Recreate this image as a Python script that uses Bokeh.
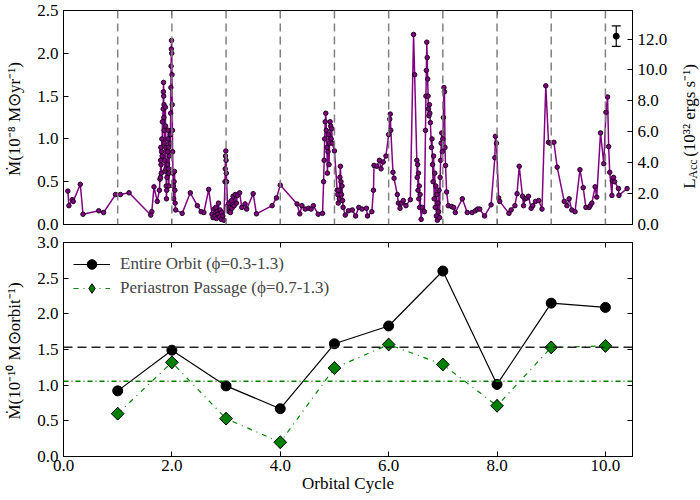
import numpy as np
from bokeh.plotting import figure
from bokeh.models import (Range1d, LinearAxis, FixedTicker, NumeralTickFormatter, Span,
                          Legend, LegendItem, Whisker, TeeHead, ColumnDataSource,
                          CustomJSTickFormatter)
from bokeh.core.properties import value
from bokeh.layouts import column, row
from bokeh.embed import file_html
from bokeh.resources import INLINE

FONT = "Liberation Serif"

# ---------------- top panel: accretion rate time series ----------------
cycle = [0.08, 0.10, 0.16, 0.18, 0.31, 0.36, 0.65, 0.74, 0.96, 1.05, 1.21, 1.61, 1.63, 1.67, 1.73, 1.77,
         1.78, 1.790, 1.793, 1.796, 1.800, 1.805, 1.810, 1.815, 1.820, 1.825,
         1.840, 1.843, 1.846, 1.849, 1.852, 1.855, 1.858, 1.861, 1.864, 1.867,
         1.880, 1.884, 1.888, 1.892, 1.896, 1.900, 1.905, 1.910,
         1.920, 1.924, 1.928, 1.932, 1.936, 1.940, 1.944, 1.948, 1.952,
         1.970, 1.974, 1.978, 1.982, 1.986, 1.990, 1.994, 1.998, 2.002, 2.006, 2.010, 2.014,
         2.020, 2.027, 2.034, 2.041, 2.048, 2.055, 2.060, 2.07,
         2.19, 2.34, 2.47, 2.54, 2.59, 2.68, 2.74,
         2.76, 2.78, 2.79, 2.81, 2.82, 2.84, 2.85, 2.86, 2.88, 2.89, 2.91, 2.92, 2.94, 2.96,
         2.98, 2.985, 2.99, 2.995, 3.00, 3.005, 3.01, 3.03,
         3.04, 3.05, 3.06, 3.07, 3.08, 3.10, 3.11, 3.13, 3.15, 3.17, 3.19, 3.21,
         3.25, 3.29, 3.35, 3.38, 3.50, 3.56, 3.85, 3.93, 4.00, 4.31, 4.36, 4.40, 4.46, 4.52,
         4.57, 4.61, 4.70, 4.78,
         4.80, 4.81, 4.82, 4.83, 4.84, 4.85, 4.86, 4.87, 4.88, 4.89, 4.90, 4.91, 4.92, 4.93,
         4.94, 4.95, 4.96, 5.00, 5.05,
         5.06, 5.07, 5.08, 5.09, 5.10, 5.11, 5.12, 5.13, 5.14, 5.15, 5.16,
         5.20, 5.26, 5.33, 5.39, 5.45, 5.51, 5.59, 5.61, 5.69, 5.72, 5.73, 5.78, 5.83, 5.86,
         5.90, 5.95, 6.00, 6.02, 6.03, 6.04, 6.08, 6.10, 6.16, 6.18, 6.21, 6.24, 6.27, 6.32,
         6.40, 6.46, 6.48,
         6.520, 6.527, 6.535, 6.542, 6.550, 6.557, 6.565, 6.572, 6.580,
         6.60, 6.62, 6.66,
         6.680, 6.688, 6.696, 6.704, 6.712, 6.720, 6.728, 6.736, 6.744, 6.752, 6.760, 6.77, 6.79,
         6.80, 6.81, 6.82, 6.83, 6.84, 6.85, 6.86, 6.87, 6.88, 6.89, 6.90, 6.91, 6.92, 6.93, 6.94,
         6.95, 6.96, 6.97, 6.98, 6.99, 7.00, 7.01, 7.02, 7.03, 7.04, 7.05,
         7.07, 7.10, 7.16, 7.20, 7.23, 7.36, 7.45, 7.54, 7.60, 7.64, 7.68, 7.77, 7.89, 7.96,
         7.97, 7.99, 8.03, 8.05, 8.22, 8.26, 8.33, 8.37, 8.41, 8.47, 8.49, 8.52, 8.55, 8.58,
         8.63, 8.66, 8.71, 8.77, 8.83, 8.90, 8.95, 8.98, 9.05, 9.11, 9.24, 9.29, 9.33, 9.38,
         9.44, 9.53, 9.59, 9.64, 9.70, 9.72, 9.75, 9.81, 9.84, 9.91, 9.97, 10.01, 10.04, 10.06,
         10.08, 10.12, 10.13, 10.15, 10.17, 10.24, 10.25, 10.40]

mdot = [0.39, 0.22, 0.29, 0.27, 0.47, 0.12, 0.16, 0.14, 0.35, 0.35, 0.37, 0.11, 0.15, 0.44, 0.27, 0.40,
        0.53, 0.55, 0.75, 0.90, 0.70, 0.60, 0.85, 1.00, 0.80, 1.20,
        1.35, 1.55, 1.66, 1.50, 1.25, 1.40, 1.10, 0.95, 0.75, 0.62,
        1.37, 1.15, 0.90, 0.65, 0.45, 0.30, 0.40, 0.55,
        0.70, 0.85, 1.00, 1.10, 0.90, 0.65, 0.45, 0.60, 0.80,
        0.95, 1.05, 1.30, 1.60, 1.85, 2.05, 2.15, 2.00, 1.75, 1.40, 1.10, 0.85,
        0.60, 0.45, 0.30, 0.50, 0.62, 0.40, 0.25, 0.17,
        0.13, 0.37, 0.22, 0.15, 0.14, 0.41, 0.12,
        0.08, 0.18, 0.10, 0.20, 0.07, 0.15, 0.12, 0.25, 0.09, 0.17, 0.06, 0.14, 0.10, 0.05,
        0.50, 0.65, 0.80, 0.86, 0.75, 0.60, 0.50, 0.22,
        0.18, 0.25, 0.15, 0.20, 0.14, 0.28, 0.19, 0.33, 0.22, 0.35, 0.25, 0.34,
        0.37, 0.20, 0.24, 0.18, 0.36, 0.125, 0.22, 0.31, 0.46, 0.24, 0.125, 0.22, 0.18, 0.19,
        0.18, 0.22, 0.12, 0.13,
        0.50, 0.75, 1.00, 1.20, 1.30, 1.10, 0.90, 0.60, 0.85, 1.05, 0.70, 0.95, 1.20, 1.15,
        1.00, 1.12, 0.95, 0.86, 0.40,
        0.35, 0.25, 0.40, 0.30, 0.55, 0.68, 0.50, 0.35, 0.45, 0.28, 0.20,
        0.11, 0.16, 0.17, 0.10, 0.20, 0.18, 0.19, 0.10, 0.15, 0.40, 0.69, 0.68, 0.75, 0.65,
        0.73, 0.80, 1.05, 1.23, 1.29, 1.10, 0.61, 0.54, 0.35, 0.25, 0.19, 0.25, 0.28, 0.22,
        0.29, 2.22, 1.75,
        0.75, 0.55, 0.70, 0.40, 0.60, 0.30, 0.45, 0.20, 0.35,
        0.06, 0.20, 0.15,
        1.10, 1.50, 1.80, 2.13, 1.95, 1.70, 1.50, 1.35, 1.27, 1.40, 1.30, 1.19, 0.90,
        1.00, 0.70, 0.50, 0.80, 0.30, 0.60, 0.20, 0.45, 0.10, 0.35, 0.05, 0.25, 0.15, 0.40, 0.08,
        0.55, 0.75, 0.95, 1.07, 0.85, 1.00, 1.25, 1.60, 1.55, 0.90, 0.69,
        0.38, 0.22, 0.21, 0.20, 0.14, 0.30, 0.14, 0.14, 0.16, 0.18, 0.18, 0.10, 0.23, 0.78,
        1.03, 0.95, 0.31, 0.27, 0.13, 0.17, 0.22, 0.36, 0.68, 0.33, 0.22, 0.30, 0.31, 0.33,
        0.19, 0.22, 0.27, 0.28, 0.18, 1.62, 0.96, 0.95, 0.96, 0.67, 0.27, 0.22, 0.30, 0.17,
        0.15, 0.64, 0.43, 0.20, 0.20, 0.22, 0.25, 0.44, 0.32, 1.07, 0.71, 1.31, 1.49, 0.91,
        0.61, 0.34, 0.51, 0.55, 0.50, 0.42, 0.34, 0.42]

periastron_marks = [1, 2, 3, 4, 5, 6, 7, 8, 9, 10]

# representative error bar (top right)
err_x = [10.2]
err_y = [2.20]
err_lo = [2.08]
err_hi = [2.32]

# ---------------- bottom panel: mass accreted per orbit ----------------
orbit = [1, 2, 3, 4, 5, 6, 7, 8, 9, 10]
entire = [0.92, 1.49, 0.99, 0.67, 1.58, 1.83, 2.60, 1.01, 2.15, 2.09]
peri = [0.60, 1.32, 0.53, 0.20, 1.24, 1.57, 1.29, 0.71, 1.53, 1.55]

xticks = [0, 2, 4, 6, 8, 10]
y1_ticks = [0, 0.5, 1.0, 1.5, 2.0, 2.5]
lum_ticks = [0, 2, 4, 6, 8, 10, 12]
y2_ticks = [0, 0.5, 1.0, 1.5, 2.0, 2.5, 3.0]
lum_top = 13.85          # right axis top (10^32 erg/s) matching M-dot = 2.5

BLANK = CustomJSTickFormatter(code="return ''")


def style_axis(ax, labels=True):
    ax.major_tick_in = 5
    ax.major_tick_out = 0
    ax.minor_tick_line_color = None
    ax.major_tick_line_color = "black"
    ax.major_tick_line_width = 1
    ax.axis_line_color = "black"
    ax.major_label_text_font = FONT
    ax.major_label_text_color = "black"
    ax.axis_label_text_font = FONT
    ax.axis_label_text_font_size = "17px"
    ax.axis_label_text_font_style = "normal"
    ax.axis_label_text_color = "black"
    if labels:
        ax.major_label_text_font_size = "17px"
        ax.major_label_standoff = 5
        ax.axis_label_standoff = 10
    else:
        ax.formatter = BLANK
        ax.major_label_text_font_size = "1px"
        ax.major_label_standoff = 0
        ax.axis_label_standoff = 0


# ---------- top figure ----------
p1 = figure(width=676, height=234, x_range=Range1d(0, 10.5), y_range=Range1d(0, 2.5),
            output_backend="svg", toolbar_location=None,
            min_border_left=63, min_border_right=44, min_border_top=10, min_border_bottom=10)
p1.extra_y_ranges = {"lum": Range1d(0, lum_top)}
p1.grid.visible = False
p1.outline_line_color = "black"
p1.outline_line_width = 1

p1.xaxis.ticker = FixedTicker(ticks=xticks)
style_axis(p1.xaxis[0], labels=False)
p1.yaxis.ticker = FixedTicker(ticks=y1_ticks)
p1.yaxis.formatter = NumeralTickFormatter(format="0.0")
style_axis(p1.yaxis[0])
p1.yaxis.axis_label = "Ṁ(10⁻⁸ M⊙yr⁻¹)"

ax_r = LinearAxis(y_range_name="lum", ticker=FixedTicker(ticks=lum_ticks),
                  formatter=NumeralTickFormatter(format="0.0"))
style_axis(ax_r)
p1.add_layout(ax_r, "right")
ax_t = LinearAxis(ticker=FixedTicker(ticks=xticks))
style_axis(ax_t, labels=False)
p1.add_layout(ax_t, "above")

for m in periastron_marks:
    p1.add_layout(Span(location=m, dimension="height", line_color="#808080",
                       line_width=1.5, line_dash="8 5"))

p1.line(cycle, mdot, line_color="#800080", line_width=1.5)
p1.scatter(cycle, mdot, size=4.5, fill_color="#800080", line_color="#200020", line_width=1)

esrc = ColumnDataSource(dict(x=err_x, y=err_y, lo=err_lo, hi=err_hi))
p1.add_layout(Whisker(base="x", lower="lo", upper="hi", source=esrc, line_color="black",
                      line_width=1.2,
                      lower_head=TeeHead(size=9, line_color="black", line_width=1.2),
                      upper_head=TeeHead(size=9, line_color="black", line_width=1.2)))
p1.scatter("x", "y", source=esrc, size=6, fill_color="black", line_color="black")

# ---------- strip holding the right-axis title (L with subscript Acc) ----------
plab = figure(width=24, height=234, x_range=Range1d(0, 24), y_range=Range1d(0, 234),
              x_axis_location=None, y_axis_location=None, toolbar_location=None,
              output_backend="svg", min_border=0, outline_line_color=None)
plab.grid.visible = False
tk = dict(angle=np.pi / 2, text_font=value(FONT), text_color="black",
          text_baseline="alphabetic", text_align="left")
plab.text(x=[13], y=[39], text=["L"], text_font_size="17px", **tk)
plab.text(x=[16.5], y=[50], text=["Acc"], text_font_size="12px", **tk)
plab.text(x=[13], y=[74], text=["(10³² ergs s⁻¹)"], text_font_size="17px", **tk)

# ---------- bottom figure ----------
p2 = figure(width=700, height=266, x_range=p1.x_range, y_range=Range1d(0, 3.0),
            output_backend="svg", toolbar_location=None,
            min_border_left=63, min_border_right=68, min_border_top=8, min_border_bottom=44)
p2.grid.visible = False
p2.outline_line_color = "black"
p2.outline_line_width = 1

p2.xaxis.ticker = FixedTicker(ticks=xticks)
p2.xaxis.formatter = NumeralTickFormatter(format="0.0")
style_axis(p2.xaxis[0])
p2.xaxis.axis_label = "Orbital Cycle"
p2.xaxis.axis_label_standoff = 0
p2.xaxis.major_label_standoff = 3
p2.yaxis.ticker = FixedTicker(ticks=y2_ticks)
p2.yaxis.formatter = NumeralTickFormatter(format="0.0")
style_axis(p2.yaxis[0])
p2.yaxis.axis_label = "Ṁ(10⁻¹⁰ M⊙orbit⁻¹)"

ax_r2 = LinearAxis(ticker=FixedTicker(ticks=y2_ticks))
style_axis(ax_r2, labels=False)
p2.add_layout(ax_r2, "right")
ax_t2 = LinearAxis(ticker=FixedTicker(ticks=xticks))
style_axis(ax_t2, labels=False)
p2.add_layout(ax_t2, "above")

p2.add_layout(Span(location=float(np.mean(entire)), dimension="width", line_color="#222222",
                   line_width=1.5, line_dash="9 5"))
p2.add_layout(Span(location=float(np.mean(peri)), dimension="width", line_color="#008000",
                   line_width=1.5, line_dash="5 3 1 3"))

l1 = p2.line(orbit, entire, line_color="black", line_width=1.2)
s1 = p2.scatter(orbit, entire, size=10, fill_color="black", line_color="black")
l2 = p2.line(orbit, peri, line_color="#008000", line_width=1.2, line_dash="5 5 1 5")
d2 = p2.scatter(orbit, peri, marker="diamond", size=12.5,
                fill_color="#008000", line_color="black", line_width=1)
s2 = p2.scatter(orbit, peri, marker="square", angle=np.pi / 4, size=9,
                fill_color="#008000", line_color="black", line_width=1)

legend = Legend(items=[LegendItem(label="Entire Orbit (ϕ=0.3-1.3)", renderers=[l1, s1]),
                       LegendItem(label="Periastron Passage (ϕ=0.7-1.3)", renderers=[l2, d2])],
                location="top_left", border_line_color=None, background_fill_alpha=0,
                label_text_font=FONT, label_text_font_size="17px", glyph_width=37,
                glyph_height=24, label_height=24, spacing=0, padding=10, margin=10,
                label_standoff=10)
p2.add_layout(legend)

layout = column(row(p1, plab, spacing=0), p2, spacing=0)
open("out.html", "w").write(file_html(layout, INLINE))
